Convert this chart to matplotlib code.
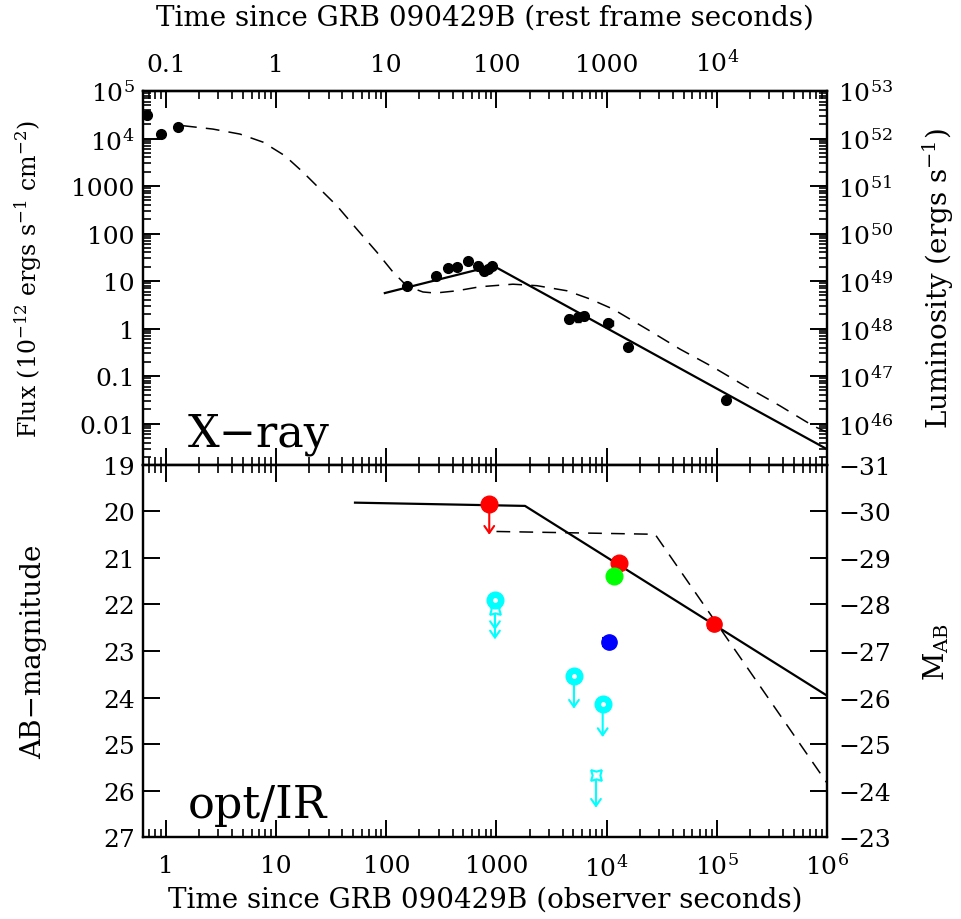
import numpy as np
import matplotlib
matplotlib.use("Agg")
import matplotlib.pyplot as plt
from matplotlib.ticker import FixedLocator, FuncFormatter, LogLocator, NullFormatter, NullLocator

# ---- X-ray data (observer seconds, 1e-12 erg/s/cm^2) ----
xr_t = [0.67, 0.90, 1.28, 153, 282, 360, 438, 547, 675, 775, 843, 916,
        4550, 5525, 6220, 10350, 15700, 1.20e5]
xr_f = [3.1e4, 1.24e4, 1.75e4, 7.9, 12.5, 18.8, 19.4, 26, 21, 16.5, 17.9, 21,
        1.58, 1.72, 1.86, 1.31, 0.414, 0.0313]
xr_ferr = [0.08, 0.06, 0.06, 0.06, 0.07, 0.06, 0.06, 0.05, 0.07, 0.08, 0.07, 0.06,
           0.09, 0.09, 0.09, 0.08, 0.06, 0.09]  # dex
xr_terr = [0, 0, 0, 0, 0, 0, 0, 0, 0, 0, 0, 0, 0.03, 0.02, 0.02, 0.04, 0, 0]  # dex

# broken power-law fit (solid)
xfit_t = [97, 935, 1e6]
xfit_f = [5.6, 21, 0.0029]

# model (dashed)
xmod_t = [1.43, 2.67, 4.7, 7.6, 12, 17.5, 25, 35.6, 54, 82, 115, 154, 215, 277,
          438, 708, 1410, 2330, 4370, 7060, 11400, 23200, 46300, 92300, 1.88e5,
          3.74e5, 7.46e5, 1e6]
xmod_f = [1.86e4, 1.58e4, 1.24e4, 8.4e3, 4.35e3, 1970, 865, 385, 124, 40.8, 15.5,
          7.85, 5.9, 5.6, 6.25, 7.6, 8.6, 8.0, 6.25, 4.2, 2.58, 0.975, 0.37, 0.155,
          0.0586, 0.0237, 0.009, 0.0066]

# ---- optical / IR data (AB mag) ----
det_t = [13000, 11600, 10400, 94800]
det_m = [21.10, 21.39, 22.81, 22.42]
det_err = [0.0, 0.0, 0.09, 0.09]
det_col = ["#ff0000", "#00ff00", "#0000ff", "#ff0000"]

# upper limits: time, mag, arrow tip mag, colour, marker
lim_t = [860, 969, 969, 5050, 9200, 8000]
lim_m = [19.83, 22.10, 21.90, 23.53, 24.15, 25.66]
lim_tip = [20.50, 22.75, 22.55, 24.24, 24.85, 26.37]
lim_col = ["#ff0000", "#00ffff", "#00ffff", "#00ffff", "#00ffff", "#00ffff"]
lim_mk = ["o", "star", "ring", "ring", "ring", "star"]

ofit_t = [52, 1815, 1e6]
ofit_m = [19.81, 19.88, 23.96]
omod_t = [1000, 27500, 1e6]
omod_m = [20.43, 20.49, 25.84]

LUM_FACTOR = 1e48   # flux (1e-12 cgs) -> luminosity
DIST_MOD = 50.0     # m_AB - M_AB
ONE_PLUS_Z = 10.0

plt.rcParams["font.family"] = ["DejaVu Serif"]
plt.rcParams["mathtext.fontset"] = "dejavuserif"
plt.rcParams["axes.linewidth"] = 1.6
for ax_ in ("xtick", "ytick"):
    plt.rcParams[ax_ + ".major.width"] = 1.4
    plt.rcParams[ax_ + ".minor.width"] = 1.2
    plt.rcParams[ax_ + ".major.size"] = 12
    plt.rcParams[ax_ + ".minor.size"] = 6
    plt.rcParams[ax_ + ".labelsize"] = 18
    plt.rcParams[ax_ + ".direction"] = "in"

LS = 20  # axis label size


def time_fmt(v, pos=None):
    if v <= 0:
        return ""
    e = int(round(np.log10(v)))
    if abs(v - 10.0 ** e) / v > 1e-6:
        return ""
    if v < 1:
        return "%g" % v
    if e <= 3:
        return "%d" % int(round(v))
    return r"10$^{%d}$" % e


def flux_fmt(v, pos=None):
    e = int(round(np.log10(v)))
    if e >= 4:
        return r"10$^{%d}$" % e
    if e >= 0:
        return "%d" % int(round(v))
    return "%g" % v


fig = plt.figure(figsize=(9.62, 9.2), dpi=100)
ax1 = fig.add_axes([0.1487, 0.4935, 0.7110, 0.4065])
ax2 = fig.add_axes([0.1487, 0.0891, 0.7110, 0.4044], sharex=ax1)

xlim = (0.62, 1e6)

# ---------------- top panel: X-ray ----------------
ax1.set_xscale("log")
ax1.set_yscale("log")
f = np.array(xr_f)
ferr_lo = f - f / 10 ** np.array(xr_ferr)
ferr_hi = f * 10 ** np.array(xr_ferr) - f
t = np.array(xr_t)
terr_lo = t - t / 10 ** np.array(xr_terr)
terr_hi = t * 10 ** np.array(xr_terr) - t
ax1.errorbar(xr_t, xr_f, yerr=[ferr_lo, ferr_hi], xerr=[terr_lo, terr_hi],
             fmt="o", color="black", ms=7, elinewidth=1.3, capsize=2.5, zorder=3)
ax1.plot(xfit_t, xfit_f, "-", color="black", lw=1.6)
ax1.plot(xmod_t, xmod_f, "--", color="black", lw=1.1, dashes=(9, 6))
ax1.set_xlim(*xlim)
ax1.set_ylim(1.35e-3, 1e5)
ax1.yaxis.set_major_locator(FixedLocator([1e-2, 1e-1, 1, 10, 100, 1e3, 1e4, 1e5]))
ax1.yaxis.set_major_formatter(FuncFormatter(flux_fmt))
ax1.yaxis.set_minor_locator(LogLocator(base=10, subs=np.arange(2, 10), numticks=20))
ax1.yaxis.set_minor_formatter(NullFormatter())
ax1.tick_params(which="both", top=False, bottom=True, left=True, right=False,
                labelbottom=False)
ax1.tick_params(axis="y", pad=6)
ax1.set_ylabel(r"Flux (10$^{-12}$ ergs s$^{-1}$ cm$^{-2}$)", fontsize=17, labelpad=20)
ax1.text(0.066, 0.053, "X\u2212ray", transform=ax1.transAxes, fontsize=32,
         ha="left", va="baseline")

sec = ax1.secondary_xaxis("top", functions=(lambda x: x / ONE_PLUS_Z,
                                            lambda x: x * ONE_PLUS_Z))
sec.set_xscale("log")
sec.xaxis.set_major_locator(FixedLocator([0.1, 1, 10, 100, 1e3, 1e4]))
sec.xaxis.set_major_formatter(FuncFormatter(time_fmt))
sec.xaxis.set_minor_locator(LogLocator(base=10, subs=np.arange(2, 10), numticks=20))
sec.xaxis.set_minor_formatter(NullFormatter())
sec.tick_params(which="both", direction="in", labelsize=18, pad=11)
sec.set_xlabel("Time since GRB 090429B (rest frame seconds)", fontsize=LS, labelpad=18)

ax1r = ax1.twinx()
ax1r.set_yscale("log")
ax1r.set_ylim(1.35e-3 * LUM_FACTOR, 1e5 * LUM_FACTOR)
ax1r.yaxis.set_major_locator(FixedLocator([10.0 ** k for k in range(46, 54)]))
ax1r.yaxis.set_major_formatter(FuncFormatter(lambda v, p: r"10$^{%d}$" % int(round(np.log10(v)))))
ax1r.yaxis.set_minor_locator(LogLocator(base=10, subs=np.arange(2, 10), numticks=20))
ax1r.yaxis.set_minor_formatter(NullFormatter())
ax1r.tick_params(which="both", direction="in", pad=8)
ax1r.set_ylabel(r"Luminosity (ergs s$^{-1}$)", fontsize=LS, labelpad=20)

# ---------------- bottom panel: optical / IR ----------------
ax2.plot(ofit_t, ofit_m, "-", color="black", lw=1.6)
ax2.plot(omod_t, omod_m, "--", color="black", lw=1.1, dashes=(9, 6))

for tt, mm, ee, cc in zip(det_t, det_m, det_err, det_col):
    if ee > 0:
        ax2.errorbar([tt], [mm], yerr=[ee], fmt="o", color=cc, ms=11,
                     elinewidth=1.5, capsize=5, capthick=1.5, zorder=4)
    else:
        ax2.plot([tt], [mm], "o", color=cc, ms=12, zorder=4)

for tt, mm, tip, cc, mk in zip(lim_t, lim_m, lim_tip, lim_col, lim_mk):
    ax2.annotate("", xy=(tt, tip), xytext=(tt, mm),
                 arrowprops=dict(arrowstyle="->,head_length=0.5,head_width=0.35",
                                 color=cc, lw=1.5, shrinkA=0, shrinkB=0), zorder=3)
    if mk == "o":
        ax2.plot([tt], [mm], "o", color=cc, ms=12, zorder=4)
    elif mk == "ring":
        ax2.plot([tt], [mm], "o", color=cc, ms=12, zorder=4)
        ax2.plot([tt], [mm], "o", color="white", ms=2.5, zorder=5)
    else:
        ax2.plot([tt], [mm], marker=(4, 1, 45), color=cc, ms=11, mfc="white",
                 mew=1.5, zorder=4)

ax2.set_xscale("log")
ax2.set_xlim(*xlim)
ax2.set_ylim(27, 19)
ax2.yaxis.set_major_locator(FixedLocator(np.arange(19, 28)))
ax2.yaxis.set_minor_locator(NullLocator())
ax2.xaxis.set_major_locator(FixedLocator([1, 10, 100, 1e3, 1e4, 1e5, 1e6]))
ax2.xaxis.set_major_formatter(FuncFormatter(time_fmt))
ax2.xaxis.set_minor_locator(LogLocator(base=10, subs=np.arange(2, 10), numticks=20))
ax2.xaxis.set_minor_formatter(NullFormatter())
ax2.tick_params(which="both", top=True, bottom=True, left=True, right=False)
ax2.tick_params(axis="x", pad=12)
ax2.tick_params(axis="y", pad=6)
ax2.set_xlabel("Time since GRB 090429B (observer seconds)", fontsize=LS, labelpad=4)
ax2.set_ylabel("AB\u2212magnitude", fontsize=LS, labelpad=40)
ax2.text(0.066, 0.054, "opt/IR", transform=ax2.transAxes, fontsize=32,
         ha="left", va="baseline")

ax2r = ax2.twinx()
ax2r.set_ylim(27 - DIST_MOD, 19 - DIST_MOD)
ax2r.yaxis.set_major_locator(FixedLocator(np.arange(-31, -22)))
ax2r.yaxis.set_minor_locator(NullLocator())
ax2r.tick_params(which="both", direction="in", pad=8)
ax2r.set_ylabel(r"M$_{\rm AB}$", fontsize=LS, labelpad=22)

fig.savefig("out.png", dpi=100)
